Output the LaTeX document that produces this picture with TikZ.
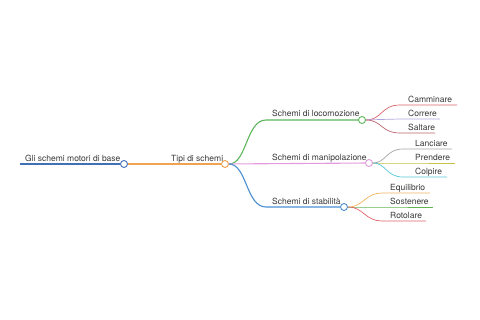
\documentclass[tikz,border=0pt]{standalone}
\usepackage{fontspec}
\setmainfont{TeX Gyre Heros}

\definecolor{wurzelblau}{HTML}{3F72B5}
\definecolor{orange}{HTML}{F0A24E}
\definecolor{gruen}{HTML}{5DB65B}
\definecolor{rosa}{HTML}{E29BDC}
\definecolor{blau}{HTML}{4A8FD2}
\definecolor{rot}{HTML}{D9626B}
\definecolor{lila}{HTML}{B2A3DA}
\definecolor{weinrot}{HTML}{B9636D}
\definecolor{grau}{HTML}{A3A3A3}
\definecolor{oliv}{HTML}{C9C245}
\definecolor{tuerkis}{HTML}{52C7D9}
\definecolor{hellorange}{HTML}{F2B262}
\definecolor{hellgruen}{HTML}{62B352}
\definecolor{hellrot}{HTML}{E0636A}

\begin{document}
\begin{tikzpicture}[x=1pt,y=-1pt,
	knoten/.style={circle,draw,fill=white,inner sep=0pt,minimum size=7pt,line width=0.9pt},
	beschrift/.style={text=black!78,font=\fontsize{8.5}{10}\selectfont,inner sep=0pt,anchor=base west},
	ast/.style={line width=1.1pt},
	zweig/.style={line width=0.7pt}]

	% Rahmen
	\useasboundingbox (0,0) rectangle (480,320);

	% Knotenpunkte
	\node[knoten,draw=wurzelblau] (wurzel) at (124,164) {};
	\node[knoten,draw=orange] (tipi) at (225,164) {};
	\node[knoten,draw=gruen] (loko) at (362,120) {};
	\node[knoten,draw=rosa] (mani) at (369,163) {};
	\node[knoten,draw=blau] (stab) at (344,207) {};

	% freie Enden
	\coordinate (anfang) at (20,164);
	\coordinate (lokoEck) at (266,120);
	\coordinate (stabEck) at (266,207);

	% Hauptzweige
	\draw[ast,wurzelblau] (anfang) -- (wurzel);
	\draw[ast,orange] (wurzel) -- (tipi);
	\draw[ast,gruen] (tipi) .. controls (247,164) and (246,120) .. (lokoEck) -- (loko);
	\draw[ast,rosa] (tipi) -- (mani);
	\draw[ast,blau] (tipi) .. controls (247,164) and (246,207) .. (stabEck) -- (stab);

	% Beschriftungen
	\node[beschrift] (twurzel) at (25,161.5) {Gli schemi motori di base};
	\node[beschrift] (ttipi) at (171,161.5) {Tipi di schemi};
	\node[beschrift] (tloko) at (272,117) {Schemi di locomozione};
	\node[beschrift] (tmani) at (272,160.5) {Schemi di manipolazione};
	\node[beschrift] (tstab) at (272,204.5) {Schemi di stabilità};

	% Blätter Lokomozione
	\coordinate (c1) at (400,105); \coordinate (c1e) at (457,105);
	\coordinate (c2) at (400,119); \coordinate (c2e) at (440,119);
	\coordinate (c3) at (400,133); \coordinate (c3e) at (435,133);
	\draw[zweig,rot] (loko) .. controls (382,120) and (381,105) .. (c1) -- (c1e);
	\draw[zweig,lila] (loko) -- (c2) -- (c2e);
	\draw[zweig,weinrot] (loko) .. controls (382,120) and (381,133) .. (c3) -- (c3e);
	\node[beschrift] (camm) at (408,102.5) {Camminare};
	\node[beschrift] (corr) at (408,116.5) {Correre};
	\node[beschrift] (salt) at (408,130.5) {Saltare};

	% Blätter Manipolazione
	\coordinate (m1) at (403,149); \coordinate (m1e) at (452,149);
	\coordinate (m2) at (403,163); \coordinate (m2e) at (455,163);
	\coordinate (m3) at (403,177); \coordinate (m3e) at (447,177);
	\draw[zweig,grau] (mani) .. controls (386,163) and (386,149) .. (m1) -- (m1e);
	\draw[zweig,oliv] (mani) -- (m2) -- (m2e);
	\draw[zweig,tuerkis] (mani) .. controls (386,163) and (386,177) .. (m3) -- (m3e);
	\node[beschrift] (lanc) at (415,146.5) {Lanciare};
	\node[beschrift] (pren) at (415,160.5) {Prendere};
	\node[beschrift] (colp) at (415,174.5) {Colpire};

	% Blätter Stabilità
	\coordinate (s1) at (383,193); \coordinate (s1e) at (430,193);
	\coordinate (s2) at (383,207); \coordinate (s2e) at (433,207);
	\coordinate (s3) at (383,221); \coordinate (s3e) at (426,221);
	\draw[zweig,hellorange] (stab) .. controls (364,207) and (364,193) .. (s1) -- (s1e);
	\draw[zweig,hellgruen] (stab) -- (s2) -- (s2e);
	\draw[zweig,hellrot] (stab) .. controls (364,207) and (364,221) .. (s3) -- (s3e);
	\node[beschrift] (equi) at (390,190.5) {Equilibrio};
	\node[beschrift] (sost) at (390,204.5) {Sostenere};
	\node[beschrift] (roto) at (390,218.5) {Rotolare};

\end{tikzpicture}
\end{document}
